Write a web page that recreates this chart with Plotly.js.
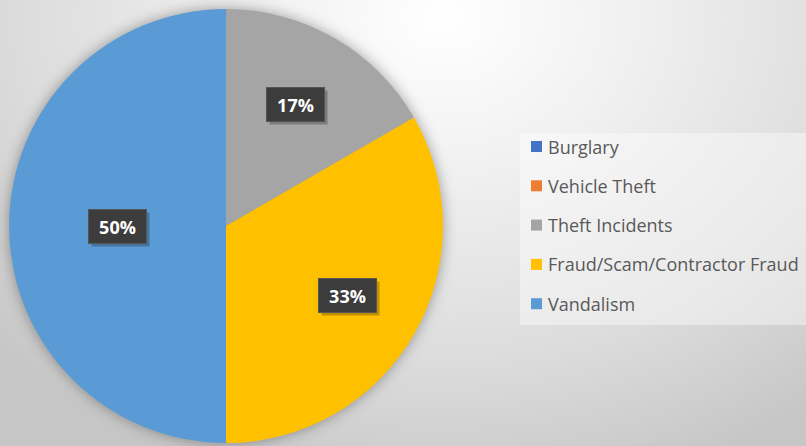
<!DOCTYPE html>
<html>
<head>
<meta charset="utf-8">
<script src="https://cdn.plot.ly/plotly-3.0.1.min.js"></script>
<style>
  html, body { margin: 0; padding: 0; width: 806px; height: 446px; overflow: hidden; }
  body { background: radial-gradient(ellipse 75% 110% at 55% 4%, #ffffff 0%, #f1f1f1 30%, #dcdcdc 70%, #c6c6c6 100%); }
  #chart { width: 806px; height: 446px; }
  .pielayer { filter: drop-shadow(0px 0px 7px rgba(0,0,0,0.35)); }
</style>
</head>
<body>
<div id="chart"></div>
<script>
// ---- data ----
const categories = ["Burglary", "Vehicle Theft", "Theft Incidents", "Fraud/Scam/Contractor Fraud", "Vandalism"];
const values = [0, 0, 1, 2, 3];
const colors = ["#4472C4", "#ED7D31", "#A5A5A5", "#FFC000", "#5B9BD5"];

// ---- layout helpers ----
const W = 806, H = 446;
const pieLeft = 9, pieRight = 443, pieTop = 8, pieBottom = 444;
const cx = (pieLeft + pieRight) / 2, cy = (pieTop + pieBottom) / 2;
const R = Math.min(pieRight - pieLeft, pieBottom - pieTop) / 2;
const toPx = (px) => px / W;
const toPy = (py) => 1 - py / H;

const total = values.reduce((a, b) => a + b, 0);

// data labels, positioned at the middle angle of each slice
const annotations = [];
let cum = 0;
values.forEach((v, i) => {
  const frac = v / total;
  if (v > 0) {
    const mid = (cum + frac / 2) * 2 * Math.PI;
    const f = frac >= 0.5 ? 0.5 : 0.645;
    const px = cx + f * R * Math.sin(mid);
    const py = cy - f * R * Math.cos(mid);
    const txt = Math.round(frac * 100) + "%";
    // shadow
    annotations.push({
      xref: "paper", yref: "paper", x: toPx(px + 3), y: toPy(py + 3),
      text: "", showarrow: false, width: 55, height: 31,
      bgcolor: "rgba(0,0,0,0.25)", xanchor: "center", yanchor: "middle"
    });
    annotations.push({
      xref: "paper", yref: "paper", x: toPx(px), y: toPy(py),
      text: "<b>" + txt + "</b>", showarrow: false, width: 55, height: 31,
      bgcolor: "#3c3c3c", bordercolor: "#555555", borderwidth: 1,
      font: { family: "Open Sans, sans-serif", size: 18, color: "#ffffff" },
      xanchor: "center", yanchor: "middle"
    });
  }
  cum += frac;
});

// custom legend
const shapes = [];
const legTop = 133, legBottom = 325, legLeft = 520, legRight = 806;
shapes.push({
  type: "rect", xref: "paper", yref: "paper",
  x0: toPx(legLeft), x1: toPx(legRight), y0: toPy(legTop), y1: toPy(legBottom),
  fillcolor: "rgba(255,255,255,0.4)", line: { width: 0 }, layer: "below"
});
const legY0 = 146.5, legStep = 39.3;
categories.forEach((c, i) => {
  const yc = legY0 + i * legStep;
  shapes.push({
    type: "rect", xref: "paper", yref: "paper",
    x0: toPx(531), x1: toPx(542), y0: toPy(yc - 5.5), y1: toPy(yc + 5.5),
    fillcolor: colors[i], line: { width: 0 }
  });
  annotations.push({
    xref: "paper", yref: "paper", x: toPx(546), y: toPy(yc),
    text: c, showarrow: false, xanchor: "left", yanchor: "middle",
    font: { family: "Open Sans, sans-serif", size: 18, color: "#595959" }
  });
});

const data = [{
  type: "pie",
  labels: categories,
  values: values,
  sort: false,
  direction: "clockwise",
  rotation: 0,
  marker: { colors: colors, line: { width: 0 } },
  textinfo: "none",
  hoverinfo: "label+percent",
  showlegend: false,
  domain: { x: [toPx(pieLeft), toPx(pieRight)], y: [toPy(pieBottom), toPy(pieTop)] }
}];

const layout = {
  width: W, height: H,
  margin: { l: 0, r: 0, t: 0, b: 0 },
  paper_bgcolor: "rgba(0,0,0,0)",
  plot_bgcolor: "rgba(0,0,0,0)",
  showlegend: false,
  annotations: annotations,
  shapes: shapes
};

Plotly.newPlot("chart", data, layout, { displayModeBar: false, staticPlot: true });
</script>
</body>
</html>
